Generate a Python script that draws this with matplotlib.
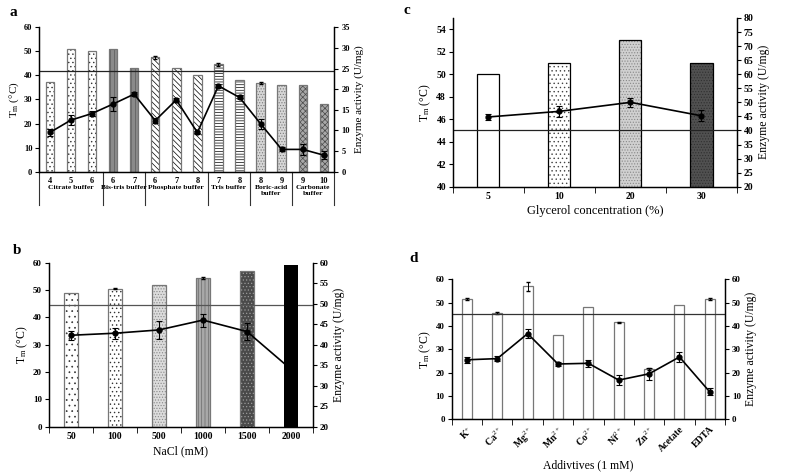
import matplotlib
matplotlib.use("Agg")
import matplotlib.pyplot as plt
import numpy as np

plt.rcParams["font.family"] = ["Liberation Serif", "DejaVu Serif"]
plt.rcParams["mathtext.fontset"] = "custom"
plt.rcParams["mathtext.rm"] = "Liberation Serif"
plt.rcParams["mathtext.it"] = "Liberation Serif:italic"
plt.rcParams["mathtext.bf"] = "Liberation Serif:bold"
plt.rcParams["hatch.linewidth"] = 0.5
plt.rcParams["axes.linewidth"] = 0.9

# ── panel a: buffers ─────────────────────────────────────────────────────────
a_groups = ["Citrate buffer", "Bis-tris buffer", "Phosphate buffer", "Tris buffer",
            "Boric-acid\nbuffer", "Carbonate\nbuffer"]
a_group_size = [3, 2, 3, 2, 2, 2]
a_ph = ["4", "5", "6", "6", "7", "6", "7", "8", "7", "8", "8", "9", "9", "10"]
a_tm = [37.1, 51.0, 50.1, 51.0, 42.9, 47.5, 42.9, 40.2, 44.6, 38.1, 36.7, 36.0, 36.0, 28.1]
a_tm_err = [0, 0, 0, 0, 0, 0.5, 0, 0, 0.5, 0, 0.4, 0, 0, 0]
a_act = [9.5, 12.5, 14.1, 16.4, 18.8, 12.4, 17.4, 9.5, 20.8, 18.0, 11.6, 5.4, 5.4, 4.0]
a_act_err = [0.8, 1.3, 0.5, 1.6, 0.4, 0.6, 0.4, 0.4, 0.4, 0.5, 1.2, 0.5, 1.3, 0.9]
a_ref = 42

# ── panel b: NaCl ────────────────────────────────────────────────────────────
b_cat = ["50", "100", "500", "1000", "1500", "2000"]
b_tm = [49.0, 50.5, 52.0, 54.5, 57.0, 59.0]
b_tm_err = [0, 0.3, 0, 0.4, 0, 0]
b_act = [42.3, 42.8, 43.6, 46.0, 43.2, 34.0]
b_act_err = [1.1, 1.3, 2.2, 1.6, 2.1, 0]
b_ref = 44.4

# ── panel c: glycerol ────────────────────────────────────────────────────────
c_cat = ["5", "10", "20", "30"]
c_tm = [50, 51, 53, 51]
c_act = [44.8, 46.8, 50.0, 45.2]
c_act_err = [1.2, 2.0, 1.5, 2.0]
c_ref = 45

# ── panel d: additives ───────────────────────────────────────────────────────
d_cat = ["K$^{+}$", "Ca$^{2+}$", "Mg$^{2+}$", "Mn$^{2+}$", "Co$^{2+}$",
         "Ni$^{2+}$", "Zn$^{2+}$", "Acetate", "EDTA"]
d_tm = [51.5, 45.5, 57.0, 36.0, 48.0, 41.5, 21.5, 49.0, 51.5]
d_tm_err = [0.4, 0.3, 2.0, 0, 0, 0.4, 0.5, 0, 0.4]
d_act = [25.5, 26.0, 36.7, 23.7, 24.0, 16.8, 19.5, 26.7, 11.7]
d_act_err = [1.2, 1.0, 2.0, 0.8, 1.5, 2.2, 2.5, 2.3, 1.5]
d_ref = 45

# bar styles (face, hatch, hatch colour)
a_style = ([("white", "....", "#333333")] * 3 + [("#8a8a8a", "||||", "#5a5a5a")] * 2
           + [("white", "\\\\\\\\\\\\", "black")] * 3 + [("white", "------", "black")] * 2
           + [("#d6d6d6", "......", "#7a7a7a")] * 2 + [("#a8a8a8", "xxxxxx", "#4a4a4a")] * 2)
b_style = [("white", "...", "#333333"), ("white", "....", "#333333"),
           ("#dcdcdc", "......", "#888888"), ("#a8a8a8", "|||||", "#6a6a6a"),
           ("#4a4a4a", ".....", "#9a9a9a"), ("black", "", "black")]
c_style = [("white", "", "black"), ("white", "....", "#444444"),
           ("#d0d0d0", "......", "#888888"), ("#505050", "......", "#303030")]

TICK_FS = 6.5
LAB_FS = 8.5


def bold_ticks(ax):
    for t in ax.get_xticklabels() + ax.get_yticklabels():
        t.set_fontweight("bold")


def draw_bars(ax, x, vals, width, styles, edge):
    for xi, v, (fc, h, hc) in zip(x, vals, styles):
        ax.bar(xi, v, width, color=fc, edgecolor=hc, hatch=h, linewidth=0, zorder=2)
        ax.bar(xi, v, width, fill=False, edgecolor=edge, linewidth=0.9, zorder=2)


def draw_line(ax2, x, vals, errs):
    ax2.errorbar(x, vals, yerr=errs, color="black", lw=1.2, marker="o", ms=3.5,
                 capsize=2, elinewidth=0.8, capthick=0.8, zorder=4)


def cat_ticks(ax, n, labels, rot=0):
    ax.set_xlim(-0.5, n - 0.5)
    ax.set_xticks(np.arange(n))
    ax.set_xticklabels(labels, fontsize=TICK_FS + 0.5, rotation=rot,
                       ha="right" if rot else "center",
                       rotation_mode="anchor" if rot else "default")
    ax.set_xticks(np.arange(n + 1) - 0.5, minor=True)
    ax.tick_params(axis="x", which="major", length=0, pad=4)
    ax.tick_params(axis="x", which="minor", length=4, direction="out")


def y_setup(ax, ax2, lo, hi, step, lo2, hi2, step2, fs):
    ax.set_ylim(lo, hi)
    ax.set_yticks(np.arange(lo, hi + 0.01, step))
    ax2.set_ylim(lo2, hi2)
    ax2.set_yticks(np.arange(lo2, hi2 + 0.01, step2))
    for a in (ax, ax2):
        a.tick_params(axis="y", labelsize=fs, length=3, direction="out", pad=2)
        a.spines["top"].set_visible(False)
    ax.set_ylabel(r"T$_{\mathrm{m}}$ (°C)", fontsize=LAB_FS, labelpad=2)
    ax2.set_ylabel("Enzyme activity (U/mg)", fontsize=LAB_FS, labelpad=3)


fig = plt.figure(figsize=(7.89, 4.74), dpi=100)

# ── a ──
ax = fig.add_axes([0.0498, 0.6378, 0.374, 0.3046])
ax2 = ax.twinx()
xa = np.arange(len(a_tm))
draw_bars(ax, xa, a_tm, 0.4, a_style, "#777777")
ax.errorbar(xa, a_tm, yerr=[e if e else np.nan for e in a_tm_err], fmt="none",
            ecolor="black", elinewidth=0.7, capsize=1.5, zorder=3)
ax.axhline(a_ref, color="#222222", lw=0.9, zorder=3)
draw_line(ax2, xa, a_act, a_act_err)
ax.set_xlim(-0.5, len(a_tm) - 0.5)
ax.set_xticks(xa)
ax.set_xticklabels(a_ph, fontsize=6)
ax.tick_params(axis="x", length=0, pad=4)
y_setup(ax, ax2, 0, 60, 10, 0, 35, 5, 6)
ax.yaxis.label.set_size(8)
ax2.yaxis.label.set_size(8)
bold_ticks(ax)
bold_ticks(ax2)
bounds = np.concatenate([[0], np.cumsum(a_group_size)]) - 0.5
trans = ax.get_xaxis_transform()
for b in bounds:
    ax.plot([b, b], [0, -0.23], color="#333333", lw=0.8, transform=trans, clip_on=False)
for i, g in enumerate(a_groups):
    mid = (bounds[i] + bounds[i + 1]) / 2
    ax.text(mid, -0.095, g, transform=trans, ha="center", va="top", fontsize=5.4,
            fontweight="bold", linespacing=1.1)

# ── c ──
ax = fig.add_axes([0.5741, 0.6061, 0.360, 0.356])
ax2 = ax.twinx()
xc = np.arange(len(c_tm))
draw_bars(ax, xc, c_tm, 0.31, c_style, "black")
ax.axhline(c_ref, color="#222222", lw=0.9, zorder=3)
draw_line(ax2, xc, c_act, c_act_err)
cat_ticks(ax, len(c_tm), c_cat)
y_setup(ax, ax2, 40, 55, 2, 20, 80, 5, TICK_FS + 0.5)
ax.set_yticks(np.arange(40, 55, 2))
ax.set_xlabel("Glycerol concentration (%)", fontsize=LAB_FS + 0.5, labelpad=3)
bold_ticks(ax)
bold_ticks(ax2)

# ── b ──
ax = fig.add_axes([0.0621, 0.0998, 0.3346, 0.346])
ax2 = ax.twinx()
xb = np.arange(len(b_tm))
draw_bars(ax, xb[:-1], b_tm[:-1], 0.33, b_style[:-1], "#777777")
ax.errorbar(xb, b_tm, yerr=[e if e else np.nan for e in b_tm_err], fmt="none",
            ecolor="black", elinewidth=0.7, capsize=1.5, zorder=3)
ax.axhline(b_ref, color="#555555", lw=0.9, zorder=3)
draw_line(ax2, xb[:-1], b_act[:-1], b_act_err[:-1])
ax2.plot(xb[-2:], b_act[-2:], color="black", lw=1.2, zorder=4)
# last bar drawn over the line, in left-axis units
ax2.bar(xb[-1], b_tm[-1], 0.33, color="black", transform=ax.transData, zorder=6)
cat_ticks(ax, len(b_tm), b_cat)
y_setup(ax, ax2, 0, 60, 10, 20, 60, 5, TICK_FS)
ax.set_xlabel("NaCl (mM)", fontsize=LAB_FS, labelpad=3)
bold_ticks(ax)
bold_ticks(ax2)

# ── d ──
ax = fig.add_axes([0.5725, 0.1154, 0.3464, 0.2954])
ax2 = ax.twinx()
xd = np.arange(len(d_tm))
draw_bars(ax, xd, d_tm, 0.33, [("white", "", "white")] * len(d_tm), "#777777")
ax.errorbar(xd, d_tm, yerr=[e if e else np.nan for e in d_tm_err], fmt="none",
            ecolor="black", elinewidth=0.7, capsize=1.5, zorder=3)
ax.axhline(d_ref, color="#333333", lw=0.9, zorder=3)
draw_line(ax2, xd, d_act, d_act_err)
cat_ticks(ax, len(d_tm), d_cat, rot=45)
y_setup(ax, ax2, 0, 60, 10, 0, 60, 10, TICK_FS)
ax.set_xlabel("Addivtives (1 mM)", fontsize=LAB_FS, labelpad=4)
bold_ticks(ax)
bold_ticks(ax2)

for letter, (px, py) in {"a": (9, 12), "c": (404, 10), "b": (13, 250), "d": (409, 258)}.items():
    fig.text(px / 789, 1 - py / 474, letter, fontsize=11, fontweight="bold",
             ha="left", va="center")

fig.savefig("out.png", dpi=100)
